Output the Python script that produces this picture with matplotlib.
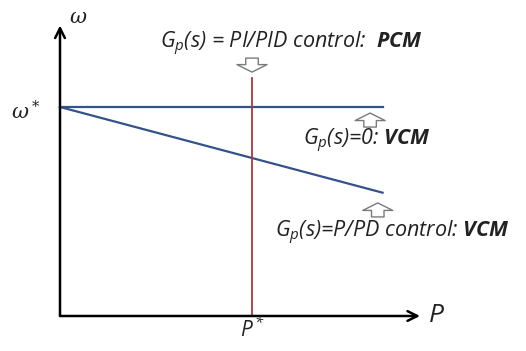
import matplotlib.pyplot as plt

font = 'Open Sans'
plt.rcParams['mathtext.fontset'] = 'custom'
plt.rcParams['mathtext.rm'] = font + ':style=italic:stretch=normal'
plt.rcParams['mathtext.it'] = font + ':style=italic:stretch=normal'
plt.rcParams['mathtext.bf'] = font + ':style=italic:weight=bold:stretch=normal'

# schematic values (P and omega in per-unit style coordinates)
omega_star = 1.0
P_star = 1.0
P_line = [0.0, 1.68]
omega_flat = [omega_star, omega_star]
omega_droop = [omega_star, 0.59]
pcm_top = 1.14
x_axis_end = 1.875
y_axis_end = 1.39

label_pcm = r'$G_p$(s) = PI/PID control:  $\mathbf{PCM}$'
label_vcm0 = r'$G_p$(s)=0: $\mathbf{VCM}$'
label_vcm = r'$G_p$(s)=P/PD control: $\mathbf{VCM}$'

blue = '#34528a'
red = '#a83a3a'
txt = '#222222'

fig = plt.figure(figsize=(5.26, 3.51), dpi=100)
ax = fig.add_axes([0, 0, 1, 1])
ax.set_xlim(-0.3125, 2.427)
ax.set_ylim(-0.1675, 1.512)
ax.axis('off')

# axes with arrows
for tip in [(x_axis_end, 0), (0, y_axis_end)]:
    ax.annotate('', xy=tip, xytext=(0, 0),
                arrowprops=dict(arrowstyle='->,head_length=0.7,head_width=0.35', lw=1.8,
                                color='black', shrinkA=0, shrinkB=0))

# characteristics
ax.plot(P_line, omega_flat, color=blue, lw=1.6)
ax.plot(P_line, omega_droop, color=blue, lw=1.6)
ax.plot([P_star, P_star], [0, pcm_top], color=red, lw=1.3)

# hollow pointer arrows
def hollow(x, y0, y1):
    ax.annotate('', xy=(x, y1), xytext=(x, y0),
                arrowprops=dict(arrowstyle='simple,head_length=0.45,head_width=1.8,tail_width=0.75',
                                fc='white', ec='#7a7a7a', lw=1.0, mutation_scale=12,
                                shrinkA=0, shrinkB=0))

hollow(P_star, 1.234, 1.167)
hollow(1.615, 0.904, 0.971)
hollow(1.655, 0.474, 0.541)

fs = 15.5
kw = dict(ha='left', va='baseline', fontsize=fs, family=font, style='italic',
          stretch='normal', color=txt)
ax.text(0.521, 1.282, label_pcm, **kw)
ax.text(1.266, 0.818, label_vcm0, **kw)
ax.text(1.12, 0.378, label_vcm, **kw)

# axis labels
ax.text(0.094, 1.43, r'$\omega$', ha='center', va='center', fontsize=15,
        math_fontfamily='dejavuserif', color=txt)
ax.text(-0.18, 0.976, r'$\omega^*$', ha='center', va='center', fontsize=15,
        math_fontfamily='dejavuserif', color=txt)
ax.text(1.96, 0.0, 'P', ha='center', va='center', fontsize=19,
        family=font, style='italic', stretch='normal', color=txt)
ax.text(P_star, -0.067, r'P$^*$', ha='center', va='center', fontsize=15,
        family=font, style='italic', stretch='normal', color=txt)

fig.savefig('out.png', dpi=100)
